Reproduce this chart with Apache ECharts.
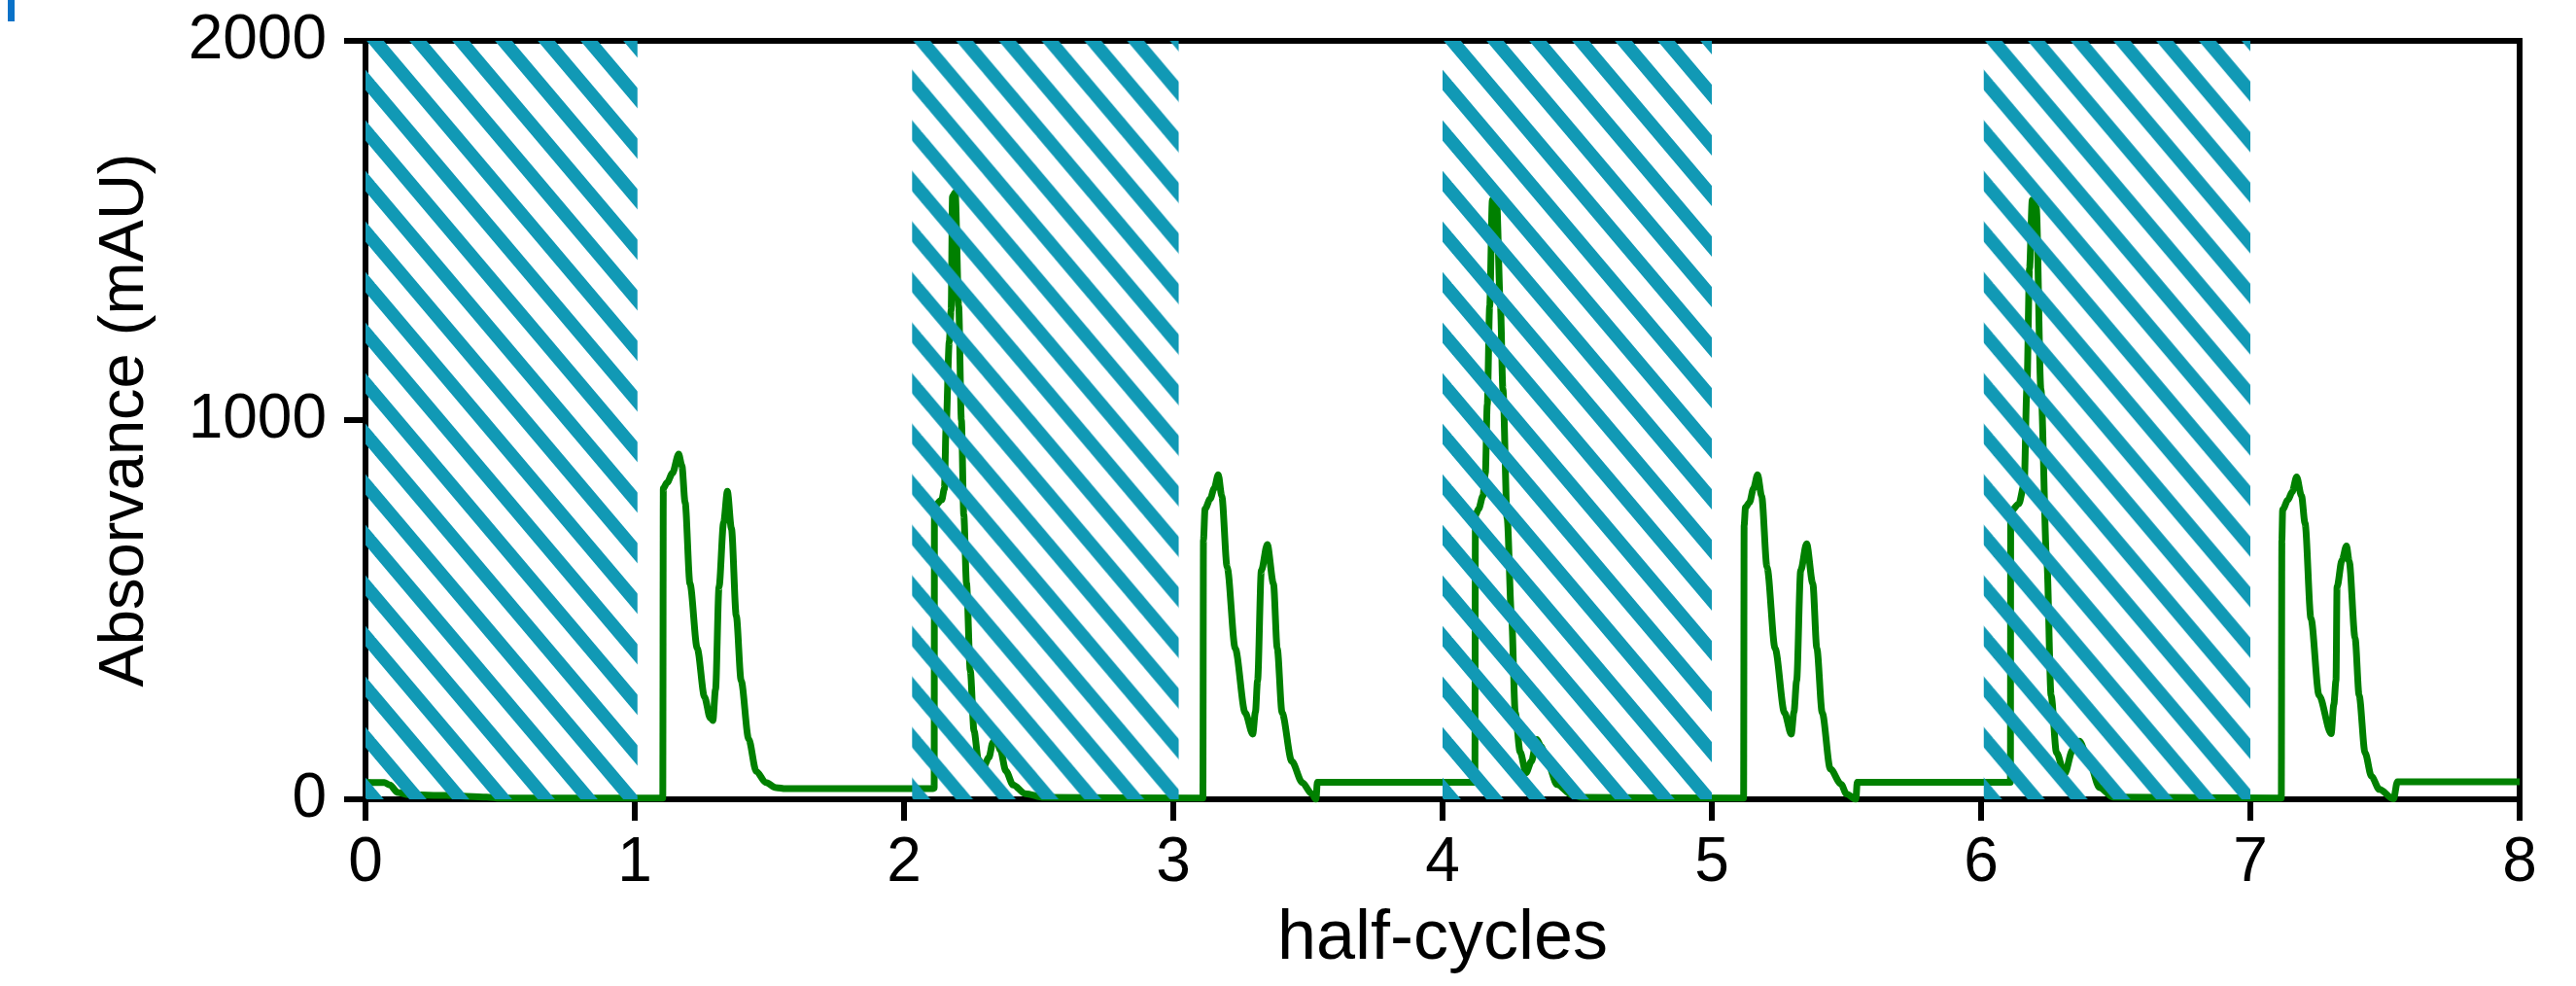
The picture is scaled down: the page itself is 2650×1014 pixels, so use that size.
<!DOCTYPE html>
<html>
<head>
<meta charset="utf-8">
<script src="https://cdn.jsdelivr.net/npm/echarts@6/dist/echarts.min.js"></script>
<style>
  html, body { margin: 0; padding: 0; background: #fff; }
  #chart { width: 2650px; height: 1014px; }
</style>
</head>
<body>
<div id="chart"></div>
<script>
// hatched windows (half-cycles)
const hatchStart = [0, 2.03, 4.0, 6.01]
const hatchEnd = [1.01, 3.02, 5.0, 7.0]

// absorbance trace, [half-cycles, mAU], one array per half-cycle
const trace0 = [[0, 45], [0.07, 44], [0.09, 38], [0.12, 18], [0.16, 12], [0.3, 10], [0.45, 6], [0.5, 3], [1.104, 3]]
const trace1 = [[1.106, 820], [1.12, 835], [1.14, 860], [1.163, 910], [1.175, 880], [1.187, 783], [1.205, 569],
  [1.232, 398], [1.259, 270], [1.28, 215], [1.29, 208], [1.3, 290], [1.313, 560], [1.33, 730], [1.344, 812],
  [1.359, 714], [1.377, 484], [1.395, 313], [1.423, 159], [1.451, 74], [1.487, 44], [1.524, 31], [1.56, 28], [2.107, 28]]
const trace2 = [[2.112, 30], [2.113, 773], [2.14, 790], [2.15, 819], [2.156, 979], [2.168, 1207], [2.175, 1290],
  [2.18, 1590], [2.19, 1600], [2.203, 1300], [2.213, 1000], [2.222, 750], [2.232, 570], [2.246, 340], [2.26, 180],
  [2.276, 105], [2.295, 85], [2.315, 110], [2.33, 150], [2.342, 162], [2.358, 130], [2.378, 75], [2.405, 38],
  [2.45, 15], [2.52, 5], [3.11, 3]]
const trace3 = [[3.112, 684], [3.118, 766], [3.137, 792], [3.152, 820], [3.167, 856], [3.18, 800], [3.2, 612],
  [3.23, 398], [3.267, 228], [3.295, 172], [3.305, 230], [3.313, 313], [3.327, 603], [3.349, 672], [3.372, 569],
  [3.386, 398], [3.404, 228], [3.44, 100], [3.479, 44], [3.515, 14], [3.53, 0], [3.535, 45], [4.12, 45]]
const trace4 = [[4.122, 749], [4.134, 766], [4.15, 800], [4.159, 860], [4.166, 1040], [4.175, 1300], [4.185, 1580],
  [4.2, 1590], [4.215, 1300], [4.224, 1082], [4.24, 740], [4.256, 484], [4.27, 228], [4.288, 125], [4.31, 70],
  [4.33, 100], [4.35, 158], [4.365, 140], [4.393, 91], [4.425, 39], [4.48, 12], [4.52, 5], [5.118, 3]]
const trace5 = [[5.12, 723], [5.125, 770], [5.14, 783], [5.155, 820], [5.17, 856], [5.185, 800], [5.205, 612],
  [5.235, 398], [5.27, 228], [5.295, 172], [5.305, 230], [5.315, 313], [5.33, 603], [5.352, 674], [5.375, 569],
  [5.39, 398], [5.41, 228], [5.44, 80], [5.48, 40], [5.5, 14], [5.535, 0], [5.54, 45], [6.109, 45]]
const trace6 = [[6.11, 759], [6.14, 779], [6.16, 829], [6.17, 1082], [6.18, 1400], [6.19, 1580], [6.205, 1560],
  [6.222, 1082], [6.244, 628], [6.26, 274], [6.28, 123], [6.31, 67], [6.34, 130], [6.365, 153], [6.4, 102],
  [6.44, 31], [6.49, 6], [7.115, 3]]
const trace7 = [[7.117, 683], [7.12, 764], [7.14, 790], [7.155, 810], [7.172, 850], [7.19, 800], [7.203, 728],
  [7.225, 477], [7.255, 274], [7.3, 173], [7.31, 250], [7.318, 313], [7.322, 560], [7.34, 630], [7.357, 668],
  [7.367, 628], [7.389, 425], [7.404, 274], [7.426, 123], [7.45, 60], [7.479, 26], [7.532, 1], [7.546, 46], [8, 46]]

const xTicks = [0, 8, 1]
const yTicks = [0, 2000, 1000]

const font = 'Liberation Sans, Arial, sans-serif'
const hatchColor = '#1199b5'
const lineColor = '#008000'

// stripe tile: 10 periods of 44 px across by 52 px down
const makeHatch = () => {
  const dx = 44
  const dy = 52
  const w = dx * 10
  const h = dy * 10
  const c = document.createElement('canvas')
  c.width = w
  c.height = h
  const ctx = c.getContext('2d')
  ctx.strokeStyle = hatchColor
  ctx.lineWidth = 13.5
  for (let k = -12; k <= 12; k++) {
    const x0 = k * dx
    ctx.beginPath()
    ctx.moveTo(x0 - w, -h)
    ctx.lineTo(x0 + 2 * w, 2 * h)
    ctx.stroke()
  }
  return c
}
const hatchImg = makeHatch()

const chart = echarts.init(document.getElementById('chart'), null, { renderer: 'canvas' })

const option = {
  animation: false,
  backgroundColor: '#fff',
  graphic: [
    { type: 'rect', shape: { x: 8, y: 0, width: 7, height: 22 }, style: { fill: '#0a72c8' } }
  ],
  grid: {
    left: 376,
    right: 58,
    top: 42,
    bottom: 192,
    show: true,
    borderColor: '#000',
    borderWidth: 6,
    backgroundColor: 'transparent'
  },
  xAxis: {
    type: 'value',
    min: xTicks[0],
    max: xTicks[1],
    interval: xTicks[2],
    name: 'half-cycles',
    nameLocation: 'middle',
    nameGap: 108,
    nameTextStyle: { fontSize: 72, color: '#000', fontFamily: font },
    axisLine: { show: true, lineStyle: { color: '#000', width: 6 } },
    axisTick: { show: true, length: 22, lineStyle: { color: '#000', width: 6 } },
    axisLabel: { fontSize: 64, color: '#000', fontFamily: font, margin: 34 },
    splitLine: { show: false }
  },
  yAxis: {
    type: 'value',
    min: yTicks[0],
    max: yTicks[1],
    interval: yTicks[2],
    name: 'Absorvance (mAU)',
    nameLocation: 'middle',
    nameGap: 214,
    nameTextStyle: { fontSize: 65, color: '#000', fontFamily: font },
    axisLine: { show: true, lineStyle: { color: '#000', width: 6 } },
    axisTick: { show: true, length: 22, lineStyle: { color: '#000', width: 6 } },
    axisLabel: { fontSize: 64, color: '#000', fontFamily: font, margin: 40, formatter: v => String(v) },
    splitLine: { show: false }
  },
  series: [
    {
      type: 'line',
      z: 2,
      data: [].concat(trace0, trace1, trace2, trace3, trace4, trace5, trace6, trace7),
      showSymbol: false,
      smooth: 0.3,
      smoothMonotone: 'x',
      lineStyle: { color: lineColor, width: 7 },
      clip: true
    },
    {
      type: 'custom',
      z: 3,
      data: hatchStart.map((s, i) => [s, hatchEnd[i]]),
      encode: { x: [0, 1] },
      clip: true,
      renderItem: (params, api) => {
        const a = api.coord([api.value(0), yTicks[1]])
        const b = api.coord([api.value(1), yTicks[0]])
        return {
          type: 'rect',
          shape: { x: a[0], y: a[1], width: b[0] - a[0], height: b[1] - a[1] },
          style: { fill: { image: hatchImg, repeat: 'repeat', x: a[0] + 10, y: a[1] } }
        }
      }
    }
  ]
}
chart.setOption(option)
</script>
</body>
</html>
